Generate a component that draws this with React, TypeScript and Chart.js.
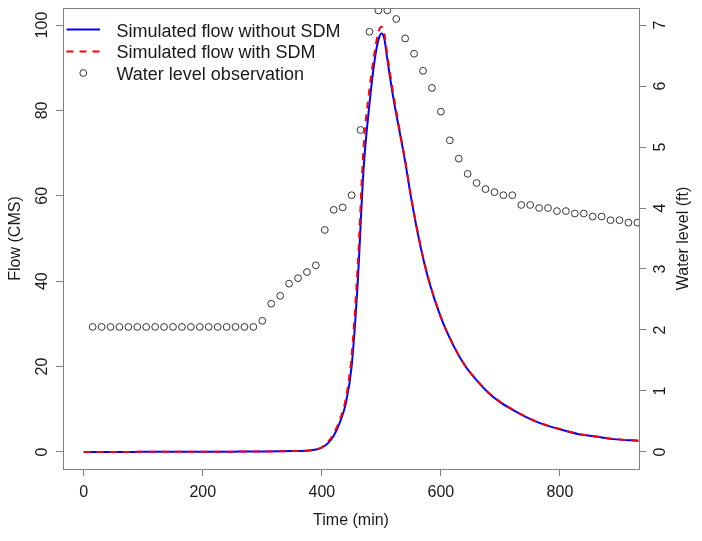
import React, { useEffect, useRef } from "react";
import { Chart, registerables } from "chart.js";

Chart.register(...registerables);

// ---- data ----
const flowTime = [0, 50, 100, 150, 200, 250, 300, 350, 380, 390, 400, 410, 420, 430, 440, 450, 460, 470, 480, 490, 495, 500, 505, 510, 520, 530, 540, 550, 560, 570, 580, 600, 620, 640, 660, 680, 700, 720, 740, 760, 780, 800, 830, 860, 890, 932];
const flowWithoutSdm = [0, 0, 0.02, 0.03, 0.05, 0.07, 0.1, 0.2, 0.35, 0.55, 1.0, 2.0, 3.8, 6.8, 11.2, 20, 39, 66, 81.5, 93, 96.5, 98, 96.8, 92, 83, 75.5, 68, 59.5, 52, 45.5, 40, 31.5, 25.2, 20.3, 16.8, 13.8, 11.6, 9.9, 8.4, 7.1, 6.1, 5.3, 4.2, 3.6, 3.0, 2.6];
const flowWithSdm = [0, 0, 0.02, 0.03, 0.05, 0.07, 0.1, 0.2, 0.38, 0.6, 1.1, 2.3, 4.3, 7.5, 12.3, 22.5, 43, 71, 85, 94.8, 98.3, 99.6, 98, 93, 84, 76, 68.3, 59.8, 52.3, 45.7, 40.2, 31.6, 25.3, 20.4, 16.9, 13.9, 11.7, 9.95, 8.45, 7.15, 6.15, 5.35, 4.25, 3.6, 3.05, 2.6];

const obsTime = [15, 30, 45, 60, 75, 90, 105, 120, 135, 150, 165, 180, 195, 210, 225, 240, 255, 270, 285, 300, 315, 330, 345, 360, 375, 390, 405, 420, 435, 450, 465, 480, 495, 510, 525, 540, 555, 570, 585, 600, 615, 630, 645, 660, 675, 690, 705, 720, 735, 750, 765, 780, 795, 810, 825, 840, 855, 870, 885, 900, 915, 930];
const obsLevel = [2.05, 2.05, 2.05, 2.05, 2.05, 2.05, 2.05, 2.05, 2.05, 2.05, 2.05, 2.05, 2.05, 2.05, 2.05, 2.05, 2.05, 2.05, 2.05, 2.15, 2.43, 2.56, 2.76, 2.85, 2.95, 3.06, 3.64, 3.97, 4.01, 4.21, 5.28, 6.89, 7.24, 7.24, 7.10, 6.78, 6.53, 6.25, 5.97, 5.58, 5.11, 4.81, 4.56, 4.41, 4.31, 4.26, 4.21, 4.21, 4.05, 4.05, 4.00, 4.00, 3.95, 3.95, 3.91, 3.91, 3.86, 3.86, 3.80, 3.80, 3.76, 3.76];

const xTicks = [0, 200, 400, 600, 800];
const flowTicks = [0, 20, 40, 60, 80, 100];
const levelTicks = [0, 1, 2, 3, 4, 5, 6, 7];

const legendLabels = ["Simulated flow without SDM", "Simulated flow with SDM", "Water level observation"];
const xTitle = "Time (min)";
const yTitle = "Flow (CMS)";
const y2Title = "Water level (ft)";

const FONT = "'Liberation Sans', Arial, sans-serif";
const TEXT = "#1a1a1a";
const BOX = "#808080";

const overlay = {
  id: "rOverlay",
  afterDraw(chart: any) {
    const ctx = chart.ctx;
    const a = chart.chartArea;
    const sx = chart.scales.x;
    const sy = chart.scales.y;
    const sy2 = chart.scales.y2;
    ctx.save();
    // box
    ctx.strokeStyle = BOX;
    ctx.lineWidth = 1;
    ctx.strokeRect(Math.round(a.left) + 0.5, Math.round(a.top) + 0.5, Math.round(a.right - a.left), Math.round(a.bottom - a.top));

    ctx.fillStyle = TEXT;
    ctx.font = `16px ${FONT}`;
    // x tick labels
    ctx.textAlign = "center";
    ctx.textBaseline = "alphabetic";
    sx.ticks.forEach((t: any) => {
      ctx.fillText(String(t.value), sx.getPixelForValue(t.value), 497);
    });
    ctx.fillText(xTitle, (a.left + a.right) / 2, 525);

    const rot = (text: string, x: number, y: number) => {
      ctx.save();
      ctx.translate(x, y);
      ctx.rotate(-Math.PI / 2);
      ctx.textAlign = "center";
      ctx.textBaseline = "alphabetic";
      ctx.fillText(text, 0, 0);
      ctx.restore();
    };
    sy.ticks.forEach((t: any) => rot(String(t.value), 46.5, sy.getPixelForValue(t.value)));
    sy2.ticks.forEach((t: any) => rot(String(t.value), 665, sy2.getPixelForValue(t.value)));
    rot(yTitle, 19.5, (a.top + a.bottom) / 2);
    rot(y2Title, 687.5, (a.top + a.bottom) / 2);

    // legend
    ctx.font = `18px ${FONT}`;
    ctx.textAlign = "left";
    const textX = 116.5;
    const baselines = [36.5, 58.3, 80];
    const sampleY = [29.5, 51.5, 73];
    ctx.lineWidth = 2;
    ctx.strokeStyle = "#0000FF";
    ctx.beginPath();
    ctx.moveTo(66.5, sampleY[0]);
    ctx.lineTo(100, sampleY[0]);
    ctx.stroke();
    ctx.strokeStyle = "#FF0000";
    ctx.setLineDash([7, 6]);
    ctx.beginPath();
    ctx.moveTo(66.5, sampleY[1]);
    ctx.lineTo(100, sampleY[1]);
    ctx.stroke();
    ctx.setLineDash([]);
    ctx.lineWidth = 1;
    ctx.strokeStyle = "#333";
    ctx.beginPath();
    ctx.arc(83.3, sampleY[2], 3.4, 0, Math.PI * 2);
    ctx.stroke();
    legendLabels.forEach((l, i) => ctx.fillText(l, textX, baselines[i]));
    ctx.restore();
  },
};

export default function App() {
  const ref = useRef<HTMLCanvasElement | null>(null);
  useEffect(() => {
    if (!ref.current) return;
    const chart = new Chart(ref.current, {
      type: "scatter",
      data: {
        datasets: [
          {
            label: legendLabels[2],
            data: obsTime.map((t, i) => ({ x: t, y: obsLevel[i] })),
            yAxisID: "y2",
            showLine: false,
            pointRadius: 3.4,
            pointStyle: "circle",
            pointBackgroundColor: "rgba(0,0,0,0)",
            pointBorderColor: "#333",
            pointBorderWidth: 1,
            order: 3,
          },
          {
            label: legendLabels[0],
            data: flowTime.map((t, i) => ({ x: t, y: flowWithoutSdm[i] })),
            yAxisID: "y",
            showLine: true,
            borderColor: "#0000FF",
            borderWidth: 2,
            pointRadius: 0,
            cubicInterpolationMode: "monotone",
            order: 2,
          },
          {
            label: legendLabels[1],
            data: flowTime.map((t, i) => ({ x: t, y: flowWithSdm[i] })),
            yAxisID: "y",
            showLine: true,
            borderColor: "#FF0000",
            borderWidth: 2,
            borderDash: [7, 6],
            pointRadius: 0,
            cubicInterpolationMode: "monotone",
            order: 1,
          },
        ],
      },
      options: {
        animation: false,
        responsive: true,
        maintainAspectRatio: false,
        layout: { padding: { top: 8, left: 0, right: 0, bottom: 0 } },
        plugins: { legend: { display: false }, tooltip: { enabled: false } },
        scales: {
          x: {
            type: "linear",
            position: "bottom",
            min: -34.8,
            max: 932.8,
            afterBuildTicks: (s: any) => {
              s.ticks = xTicks.map((v) => ({ value: v }));
            },
            afterFit: (s: any) => {
              s.height = 72;
            },
            ticks: { display: false },
            border: { display: false },
            grid: { drawOnChartArea: false, drawTicks: true, tickLength: 7, tickColor: BOX, tickWidth: 1 },
          },
          y: {
            type: "linear",
            position: "left",
            min: -4,
            max: 104,
            afterBuildTicks: (s: any) => {
              s.ticks = flowTicks.map((v) => ({ value: v }));
            },
            afterFit: (s: any) => {
              s.width = 63;
            },
            ticks: { display: false },
            border: { display: false },
            grid: { drawOnChartArea: false, drawTicks: true, tickLength: 7, tickColor: BOX, tickWidth: 1 },
          },
          y2: {
            type: "linear",
            position: "right",
            min: -0.28,
            max: 7.28,
            afterBuildTicks: (s: any) => {
              s.ticks = levelTicks.map((v) => ({ value: v }));
            },
            afterFit: (s: any) => {
              s.width = 63;
            },
            ticks: { display: false },
            border: { display: false },
            grid: { drawOnChartArea: false, drawTicks: true, tickLength: 7, tickColor: BOX, tickWidth: 1 },
          },
        },
      },
      plugins: [overlay],
    } as any);
    return () => chart.destroy();
  }, []);
  return (
    <div style={{ position: "fixed", left: 0, top: 0, width: 702, height: 541, background: "#fff" }}>
      <canvas ref={ref} />
    </div>
  );
}
